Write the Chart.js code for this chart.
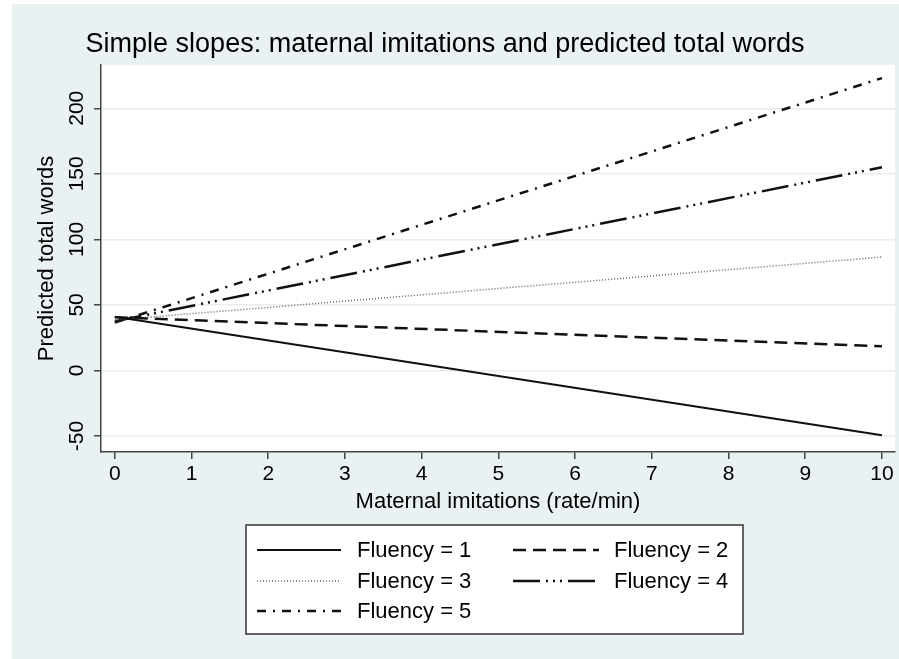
<!DOCTYPE html>
<html>
<head>
<meta charset="utf-8">
<script src="https://cdn.jsdelivr.net/npm/chart.js@4/dist/chart.umd.min.js"></script>
<style>
  html, body { margin: 0; padding: 0; background: #fff; }
  #wrap { width: 899px; height: 659px; }
</style>
</head>
<body>
<div id="wrap"><canvas id="c" width="899" height="659"></canvas></div>
<script>
// values, at imitations = 0 and 10
const xValues = [0, 10];
const fluency1 = [41, -49.5];
const fluency2 = [40.5, 18.5];
const fluency3 = [38.5, 86.5];
const fluency4 = [37.5, 155];
const fluency5 = [36.5, 223];
const seriesLabels = ['Fluency = 1', 'Fluency = 2', 'Fluency = 3', 'Fluency = 4', 'Fluency = 5'];
const xTicks = [0, 1, 2, 3, 4, 5, 6, 7, 8, 9, 10];
const yTicks = [-50, 0, 50, 100, 150, 200];

const FONT = '"Liberation Sans", Arial, sans-serif';
const BG = '#e9f1f3';

const pts = ys => xValues.map((x, i) => ({ x, y: ys[i] }));
const styles = [
  { dash: [], width: 2, color: '#111' },
  { dash: [13, 7], width: 2.5, color: '#111' },
  { dash: [1, 2], width: 1.5, color: '#666' },
  { dash: [27, 6, 2, 5, 2, 5, 2, 6], width: 2.5, color: '#111' },
  { dash: [9, 7, 2, 7], width: 2.5, color: '#111' },
];
const datasets = [fluency1, fluency2, fluency3, fluency4, fluency5].map((v, i) => ({
  label: seriesLabels[i],
  data: pts(v),
  borderColor: styles[i].color,
  borderWidth: styles[i].width,
  borderDash: styles[i].dash,
  pointRadius: 0,
  tension: 0,
  fill: false,
}));

// stata-ish backdrop: bluish page, white plot region
const backdrop = {
  id: 'backdrop',
  beforeDraw(chart) {
    const { ctx, chartArea: a } = chart;
    ctx.save();
    ctx.fillStyle = '#fff';
    ctx.fillRect(0, 0, chart.width, chart.height);
    ctx.fillStyle = BG;
    ctx.fillRect(12, 4, chart.width - 12, chart.height - 4);
    ctx.fillStyle = '#fff';
    ctx.fillRect(a.left, a.top, a.right - a.left, a.bottom - a.top);
    ctx.restore();
  }
};

// title, axis titles, rotated y labels and the legend box
const decorations = {
  id: 'decorations',
  afterDraw(chart) {
    const { ctx, chartArea: a } = chart;
    const ys = chart.scales.y;
    ctx.save();
    ctx.fillStyle = '#000';
    ctx.textAlign = 'center';
    ctx.textBaseline = 'middle';

    ctx.font = '27px ' + FONT;
    ctx.fillText('Simple slopes: maternal imitations and predicted total words', 445, 45);

    ctx.font = '22px ' + FONT;
    ctx.fillText('Maternal imitations (rate/min)', (a.left + a.right) / 2, 502);

    ctx.save();
    ctx.translate(47, (a.top + a.bottom) / 2);
    ctx.rotate(-Math.PI / 2);
    ctx.fillText('Predicted total words', 0, 0);
    ctx.restore();

    ctx.font = '21px ' + FONT;
    ys.ticks.forEach(t => {
      ctx.save();
      ctx.translate(77, ys.getPixelForValue(t.value));
      ctx.rotate(-Math.PI / 2);
      ctx.fillText(String(t.value), 0, 0);
      ctx.restore();
    });

    // legend
    ctx.fillStyle = '#fff';
    ctx.fillRect(246, 525, 497, 109);
    ctx.strokeStyle = '#333';
    ctx.lineWidth = 1.5;
    ctx.strokeRect(246, 525, 497, 109);
    const cols = [{ x0: 257, x1: 341, tx: 357 }, { x0: 513, x1: 599, tx: 614 }];
    const rows = [550, 581, 611];
    ctx.font = '22px ' + FONT;
    ctx.textAlign = 'left';
    chart.data.datasets.forEach((d, i) => {
      const c = cols[i % 2], r = rows[Math.floor(i / 2)];
      ctx.beginPath();
      ctx.setLineDash(d.borderDash);
      ctx.lineWidth = d.borderWidth;
      ctx.strokeStyle = d.borderColor;
      ctx.moveTo(c.x0, r);
      ctx.lineTo(c.x1, r);
      ctx.stroke();
      ctx.setLineDash([]);
      ctx.fillStyle = '#000';
      ctx.fillText(d.label, c.tx, r + 1);
    });
    ctx.restore();
  }
};

new Chart(document.getElementById('c'), {
  type: 'line',
  data: { datasets },
  options: {
    responsive: false,
    animation: false,
    layout: { padding: { left: 0, top: 65, right: 4, bottom: 127 } },
    plugins: { legend: { display: false }, tooltip: { enabled: false } },
    scales: {
      x: {
        type: 'linear',
        min: -0.18,
        max: 10.17,
        afterBuildTicks: s => { s.ticks = xTicks.map(v => ({ value: v })); },
        afterFit: s => { s.height = 80; },
        grid: { drawOnChartArea: false, drawTicks: true, tickLength: 7, tickColor: '#444', lineWidth: 1.5 },
        border: { display: true, color: '#444', width: 1.5 },
        ticks: { color: '#000', font: { family: FONT, size: 21 }, padding: 3, maxRotation: 0 },
      },
      y: {
        type: 'linear',
        min: -62.2,
        max: 233,
        afterBuildTicks: s => { s.ticks = yTicks.map(v => ({ value: v })); },
        afterFit: s => { s.width = 101; },
        grid: { color: '#e6eef0', lineWidth: 1.5, drawTicks: true, tickLength: 7, tickColor: '#444' },
        border: { display: true, color: '#444', width: 1.5 },
        ticks: { display: false },
      },
    },
  },
  plugins: [backdrop, decorations],
});
</script>
</body>
</html>
